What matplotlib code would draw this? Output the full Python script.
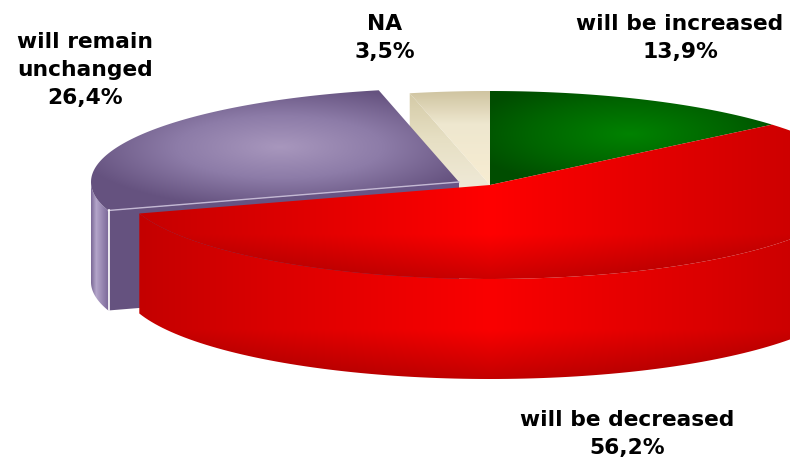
#!/usr/bin/env python3
"""Exploded 3D-look pie: expected change, shares in percent."""

import numpy as np
import matplotlib
matplotlib.use('Agg')
import matplotlib.pyplot as plt
from matplotlib.patches import Polygon

labels = ['will be increased', 'will be decreased', 'will remain\nunchanged', 'NA']
values = [13.9, 56.2, 26.4, 3.5]

W, H = 790, 464
RX, RY = 368, 94      # top ellipse radii in pixels
DEPTH = 100           # height of the pie wall
CX, CY = 490, 186
PURPLE_C = (459, 183)  # the purple slice is pulled out

fig = plt.figure(figsize=(W / 100, H / 100), dpi=100)
ax = fig.add_axes([0, 0, 1, 1])
ax.set_axis_off()

xx, yy = np.meshgrid(np.arange(W) + 0.5, np.arange(H) + 0.5)


def ramp(t, stops):
    # stops is a list of (position, hex colour)
    pos = [s[0] for s in stops]
    rgb = np.array([matplotlib.colors.to_rgb(s[1]) for s in stops])
    return np.dstack([np.interp(t, pos, rgb[:, i]) for i in range(3)])


def paint(img, pts):
    patch = Polygon(pts, closed=True, transform=ax.transData, fc='none', ec='none')
    ax.add_patch(patch)
    im = ax.imshow(img, extent=(0, W, H, 0), origin='upper', interpolation='bilinear', aspect='auto')
    im.set_clip_path(patch)


def rim(a0, a1, c=(CX, CY), drop=0):
    a = np.radians(np.linspace(a0, a1, 120))
    return np.column_stack([c[0] + RX * np.cos(a), c[1] - RY * np.sin(a) + drop])


# slice angles, clockwise from the top
edges = 90 - np.cumsum([0] + values) * 3.6
green_a = edges[0], edges[1]
red_a = edges[1], edges[2]
purple_a = edges[2], edges[3]
na_a = edges[3], edges[4]

# NA: wall of the cut side first, then the top
na_edge = rim(na_a[0], na_a[0])[0]
na_side = [na_edge, (CX, CY), (CX, CY + DEPTH), (na_edge[0], na_edge[1] + DEPTH)]
paint(ramp((yy - 92) / 94, [(0, '#d3c9a5'), (0.5, '#e6dfc3'), (1, '#efe9d6')]), na_side)
na_top = np.vstack([[(CX, CY)], rim(na_a[0], na_a[1])])
paint(ramp((yy - 92) / 94, [(0, '#cfc4a0'), (0.35, '#eee7cf'), (1, '#f8edd2')]), na_top)

# purple: cut face, wall, top
pc = PURPLE_C
corner = rim(purple_a[0], purple_a[0], pc)[0]
cut = [pc, tuple(corner), (corner[0], corner[1] + DEPTH), (pc[0], pc[1] + DEPTH)]
paint(ramp((xx - 108) / 350, [(0, '#65527f'), (1, '#6a5688')]), cut)
wall = np.vstack([rim(-180, purple_a[0], pc), rim(purple_a[0], -180, pc, DEPTH)])
paint(ramp((xx - 90) / 18, [(0, '#6f5c8c'), (0.35, '#b3a5c9'), (1, '#7d6a9a')]), wall)
top = np.vstack([[pc], rim(purple_a[0], purple_a[1], pc)])
dist = np.hypot((xx - 280) / 205, (yy - 148) / 62)
paint(ramp(dist, [(0, '#a897bd'), (0.5, '#8d7ca8'), (1, '#65527f')]), top)
ax.plot([corner[0], pc[0]], [corner[1], pc[1]], color='#c4b9d4', lw=1.0)
ax.plot([corner[0] + 0.5, corner[0] + 0.5], [corner[1], corner[1] + DEPTH], color='white', lw=1.2)

# green top
top = np.vstack([[(CX, CY)], rim(green_a[0], green_a[1])])
dist = np.hypot((xx - 630) / 170, (yy - 135) / 55)
paint(ramp(dist, [(0, '#008200'), (0.6, '#006400'), (1, '#004d00')]), top)

# red: wall, then top
wall = np.vstack([rim(red_a[1], 0), rim(0, red_a[1], drop=DEPTH)])
t = np.abs(xx - 490) / 350
img = ramp(t, [(0, '#fa0000'), (0.6, '#dc0000'), (1, '#c40000')])
img = img * (1 - 0.22 * np.clip((yy - 330) / 50, 0, 1))[..., None]
paint(img, wall)
top = np.vstack([[(CX, CY)], rim(red_a[0], red_a[1], (CX, CY))])
img = ramp(t, [(0, '#ff0000'), (0.6, '#dc0000'), (1, '#c60000')])
img = img * (1 - 0.2 * np.clip((yy - 235) / 45, 0, 1))[..., None]
paint(img, top)

ax.set_xlim(0, W)
ax.set_ylim(H, 0)

# labels, same order as the values
label_pos = [(680, 38), (627, 434), (85, 70), (385, 38)]
for name, val, (lx, ly) in zip(labels, values, label_pos):
    txt = f"{name}\n{val:.1f}%".replace('.', ',')
    ax.text(lx, ly, txt, ha='center', va='center', fontsize=15.7, fontweight='bold',
            family='DejaVu Sans', color='black', linespacing=1.5)

plt.savefig('out.png', dpi=100)
